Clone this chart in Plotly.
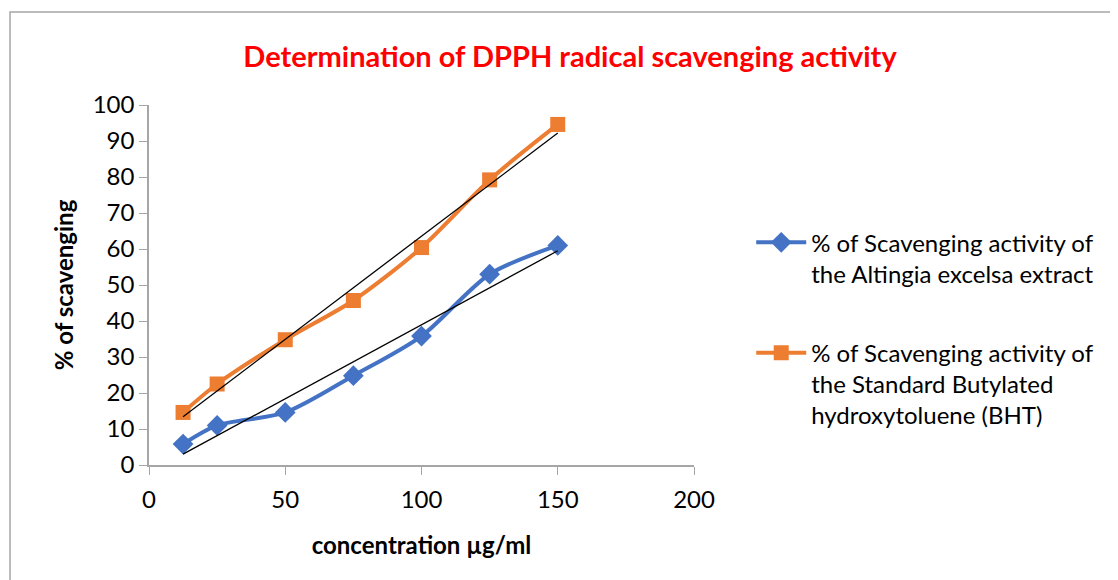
import numpy as np
import plotly.graph_objects as go

concentration = [12.5, 25, 50, 75, 100, 125, 150]
altingia_extract = [5.8, 11.0, 14.6, 24.8, 35.8, 53.0, 61.0]
bht_standard = [14.6, 22.5, 34.8, 45.7, 60.4, 79.2, 94.6]

name_extract = "% of Scavenging activity of<br>the Altingia excelsa extract"
name_bht = "% of Scavenging activity of<br>the Standard Butylated<br>hydroxytoluene (BHT)"

FONT = "Lato, 'Open Sans', sans-serif"
AXIS_GREY = "#a6a6a6"

fig = go.Figure()

fig.add_trace(
    go.Scatter(
        x=concentration,
        y=altingia_extract,
        name=name_extract,
        legendgroup="extract",
        mode="lines+markers",
        line=dict(color="#4472c4", width=4, shape="spline", smoothing=0.8),
        marker=dict(symbol="diamond", size=16, color="#4472c4")
    )
)

fig.add_trace(
    go.Scatter(
        x=concentration,
        y=bht_standard,
        name=name_bht,
        legendgroup="bht",
        mode="lines+markers",
        line=dict(color="#ed7d31", width=4, shape="spline", smoothing=0.8),
        marker=dict(symbol="square", size=15, color="#ed7d31")
    )
)

# linear trendlines, fitted to each series
for series in (altingia_extract, bht_standard):
    slope, intercept = np.polyfit(concentration, series, 1)
    xs = np.array([concentration[0], concentration[-1]])
    fig.add_trace(
        go.Scatter(
            x=xs,
            y=slope * xs + intercept,
            mode="lines",
            line=dict(color="black", width=1.3),
            showlegend=False,
            hoverinfo="skip"
        )
    )

fig.update_xaxes(
    range=[0, 200],
    tickvals=[0, 50, 100, 150, 200],
    showgrid=False,
    zeroline=False,
    showline=True,
    linecolor=AXIS_GREY,
    linewidth=1.5,
    ticks="outside",
    tickcolor=AXIS_GREY,
    ticklen=8,
    ticklabelstandoff=4,
    tickfont=dict(size=24, color="black", family=FONT),
    title=dict(text="<b>concentration µg/ml</b>", font=dict(size=24, color="black", family=FONT), standoff=26)
)

fig.update_yaxes(
    range=[0, 100],
    dtick=10,
    showgrid=False,
    zeroline=False,
    showline=True,
    linecolor=AXIS_GREY,
    linewidth=1.5,
    ticks="outside",
    tickcolor=AXIS_GREY,
    ticklen=8,
    tickfont=dict(size=24, color="black", family=FONT),
    title=dict(text="<b>% of scavenging</b>", font=dict(size=24, color="black", family=FONT), standoff=12)
)

fig.update_layout(
    width=1118,
    height=580,
    margin=dict(l=141, r=432, t=97, b=123),
    paper_bgcolor="white",
    plot_bgcolor="white",
    font=dict(family=FONT, color="black"),
    title=dict(
        text="<b>Determination of DPPH radical scavenging activity</b>",
        font=dict(size=29, color="#ff0000", family=FONT),
        x=0.5027, xref="container", xanchor="center",
        y=0.9155, yref="container", yanchor="middle"
    ),
    legend=dict(
        x=1.105, xanchor="left",
        y=0.68, yanchor="top",
        font=dict(size=24, color="black", family=FONT),
        valign="top",
        tracegroupgap=45,
        itemwidth=50,
        bgcolor="rgba(0,0,0,0)"
    ),
    showlegend=True,
    shapes=[
        dict(
            type="rect", xref="paper", yref="paper",
            x0=-0.255, x1=1.9, y0=-0.6, y1=1.258,
            line=dict(color=AXIS_GREY, width=1.5),
            layer="below"
        )
    ]
)

fig.write_html("out.html")
